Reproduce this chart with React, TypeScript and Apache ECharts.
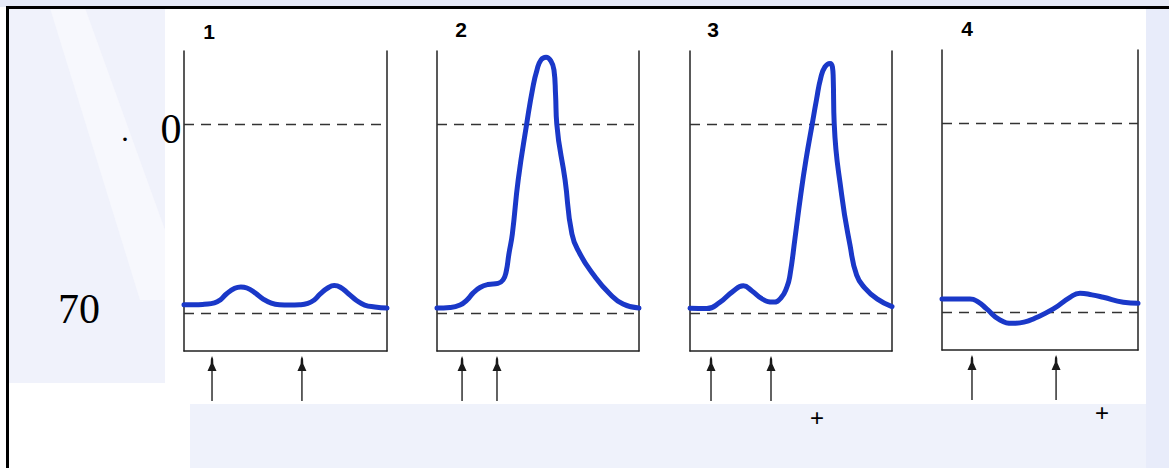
import React, { useEffect, useRef } from "react";
import * as echarts from "echarts";

// ---- data (time in ms, membrane potential in mV) ----
const PANEL_LABELS = ["1", "2", "3", "4"];
const REF_LEVELS = [0, -70];
const Y_MIN = -84;
const Y_MAX = 27;

const p1T = [0, 5, 10, 15, 18, 21, 25, 28, 31, 35, 39, 43, 47, 52, 57, 61, 64, 67, 71, 74, 77, 81, 85, 89, 94, 100];
const p1V = [-66.9, -66.9, -66.7, -66.2, -65.0, -62.8, -60.8, -60.3, -60.7, -62.5, -64.8, -66.3, -66.9, -67.0, -66.9, -66.4, -65.2, -63.0, -60.6, -59.8, -60.4, -62.8, -65.3, -67.0, -67.7, -68.1];

const p2T = [0, 6.4, 11.4, 14.9, 17.8, 21.3, 25.2, 30.2, 32.7, 34.2, 35.6, 37.3, 40.2, 44.4, 47.5, 49.5, 51.5, 54.0, 56.4, 57.9, 58.7, 59.3, 63.4, 66.8, 70.8, 77.2, 85.6, 92.1, 100];
const p2V = [-68.1, -67.9, -67.0, -65.1, -62.6, -60.5, -59.4, -59.0, -57.7, -54.8, -48.1, -40.7, -20.7, 0, 13.7, 20.0, 23.7, 24.7, 23.3, 20.0, 10.7, 0, -20.7, -40.7, -48.1, -55.5, -62.9, -66.6, -68.1];

const p3T = [0, 8.3, 14.9, 20.8, 26.4, 30.7, 36.1, 41.2, 45.0, 48.0, 49.5, 52.0, 54.8, 57.4, 60.5, 62.6, 64.7, 66.8, 69.3, 70.5, 70.9, 71.4, 75.1, 79.2, 82.5, 86.6, 92.6, 100];
const p3V = [-68.2, -68.3, -65.9, -62.2, -59.9, -61.8, -64.9, -65.9, -64.4, -60.3, -55.9, -42.2, -26.3, -13.3, 0, 8.9, 17.0, 21.1, 22.4, 21.1, 17.0, 0, -26.3, -44.8, -55.9, -60.7, -64.7, -67.6];

const p4T = [0, 14.3, 18.4, 22.8, 29.6, 36.4, 42.3, 46.6, 56.8, 65.3, 70.4, 76.5, 82.3, 92.5, 100];
const p4V = [-65.1, -65.1, -66.2, -68.8, -72.9, -74.1, -73.6, -72.5, -68.8, -64.5, -63.0, -63.6, -64.5, -66.3, -66.7];

const STIM_TIMES = [
  [13.8, 58.1],
  [12.4, 29.7],
  [10.4, 40.1],
  [15.3, 58.2],
];

const TRACES = [
  [p1T, p1V],
  [p2T, p2V],
  [p3T, p3V],
  [p4T, p4V],
];

// ---- layout (pixels) ----
const GRIDS = [
  { left: 184, top: 51, width: 203, height: 300 },
  { left: 437, top: 51, width: 202, height: 300 },
  { left: 690, top: 51, width: 202, height: 300 },
  { left: 942, top: 50, width: 196, height: 300 },
];
const LABEL_POS = [
  [209, 31],
  [461, 29],
  [713, 29],
  [967, 28],
];

const ARROW_PATH =
  "path://M5 0 L6 3 L6.2 8 L9 15 L1 15 L3.8 8 L4 3 Z M4.4 15 L5.6 15 L5.6 45 L4.4 45 Z";

const SERIF = "'Liberation Serif', 'Times New Roman', serif";
const SANS = "Arial, 'Liberation Sans', sans-serif";

export default function App() {
  const ref = useRef<HTMLDivElement>(null);

  useEffect(() => {
    if (!ref.current) return;
    const chart = echarts.init(ref.current, undefined, { renderer: "svg" });

    const axisLine = { show: true, lineStyle: { color: "#222", width: 1.5 } };

    const grid = GRIDS.map((g) => ({ ...g }));
    const xAxis = GRIDS.map((_, i) => ({
      type: "value",
      gridIndex: i,
      min: 0,
      max: 100,
      position: "bottom",
      axisLine: { ...axisLine, onZero: false },
      axisTick: { show: false },
      axisLabel: { show: false },
      splitLine: { show: false },
    }));
    const yAxis: any[] = [];
    GRIDS.forEach((_, i) => {
      ["left", "right"].forEach((pos) => {
        yAxis.push({
          type: "value",
          gridIndex: i,
          min: Y_MIN,
          max: Y_MAX,
          position: pos,
          axisLine: { ...axisLine, onZero: false },
          axisTick: { show: false },
          axisLabel: { show: false },
          splitLine: { show: false },
        });
      });
    });

    const series: any[] = [];
    TRACES.forEach(([t, v], i) => {
      series.push({
        type: "line",
        xAxisIndex: i,
        yAxisIndex: i * 2,
        data: t.map((x, k) => [x, v[k]]),
        smooth: 0.5,
        showSymbol: false,
        symbol: "none",
        lineStyle: { color: "#1a38c8", width: 5, cap: "round", join: "round" },
        z: 5,
        markLine: {
          silent: true,
          symbol: "none",
          label: { show: false },
          lineStyle: { color: "#333", type: [10, 7], width: 1.4 },
          data: REF_LEVELS.map((y) => ({ yAxis: y })),
          z: 3,
        },
      });
      series.push({
        type: "scatter",
        xAxisIndex: i,
        yAxisIndex: i * 2,
        clip: false,
        data: STIM_TIMES[i].map((x) => [x, Y_MIN]),
        symbol: ARROW_PATH,
        symbolSize: [9, 45],
        symbolOffset: [0, 27.5],
        itemStyle: { color: "#1a1a1a", opacity: 1 },
        silent: true,
      });
    });

    const bg = (shape: any, fill: string) => ({
      type: "rect",
      shape,
      style: { fill },
      z: -100,
      silent: true,
    });

    const txt = (
      text: string,
      x: number,
      y: number,
      fontSize: number,
      fontFamily: string,
      fontWeight: string = "normal"
    ) => ({
      type: "text",
      x,
      y,
      style: {
        text,
        fontSize,
        fontFamily,
        fontWeight,
        fill: "#000",
        align: "center",
        verticalAlign: "middle",
      },
      z: 60,
    });

    const graphic: any[] = [
      bg({ x: 0, y: 0, width: 1169, height: 7 }, "#e6eaf8"),
      bg({ x: 8, y: 8, width: 157, height: 375 }, "#f0f2fb"),
      bg({ x: 190, y: 404, width: 979, height: 64 }, "#eff2fb"),
      bg({ x: 1146, y: 8, width: 23, height: 460 }, "#e8ecfa"),
      {
        type: "polygon",
        shape: { points: [[50, 8], [85, 8], [165, 230], [165, 300], [140, 300]] },
        style: { fill: "#f7f8fd" },
        z: -99,
        silent: true,
      },
      {
        type: "line",
        shape: { x1: 7.5, y1: 7, x2: 7.5, y2: 468 },
        style: { stroke: "#000", lineWidth: 3 },
        z: 50,
      },
      {
        type: "line",
        shape: { x1: 6, y1: 7.5, x2: 1169, y2: 7.5 },
        style: { stroke: "#000", lineWidth: 3 },
        z: 50,
      },
      ...PANEL_LABELS.map((t, i) =>
        txt(t, LABEL_POS[i][0], LABEL_POS[i][1], 21, SANS, "bold")
      ),
      txt(".", 125, 130, 30, SERIF),
      txt("0", 171, 129, 42, SERIF),
      txt("70", 79, 309, 42, SERIF),
      txt("+", 817, 417, 24, SANS),
      txt("+", 1102, 412, 24, SANS),
    ];

    chart.setOption({
      animation: false,
      backgroundColor: "#ffffff",
      grid,
      xAxis,
      yAxis,
      series,
      graphic,
    });

    return () => chart.dispose();
  }, []);

  return (
    <div
      ref={ref}
      style={{ position: "absolute", left: 0, top: 0, width: 1169, height: 468 }}
    />
  );
}
